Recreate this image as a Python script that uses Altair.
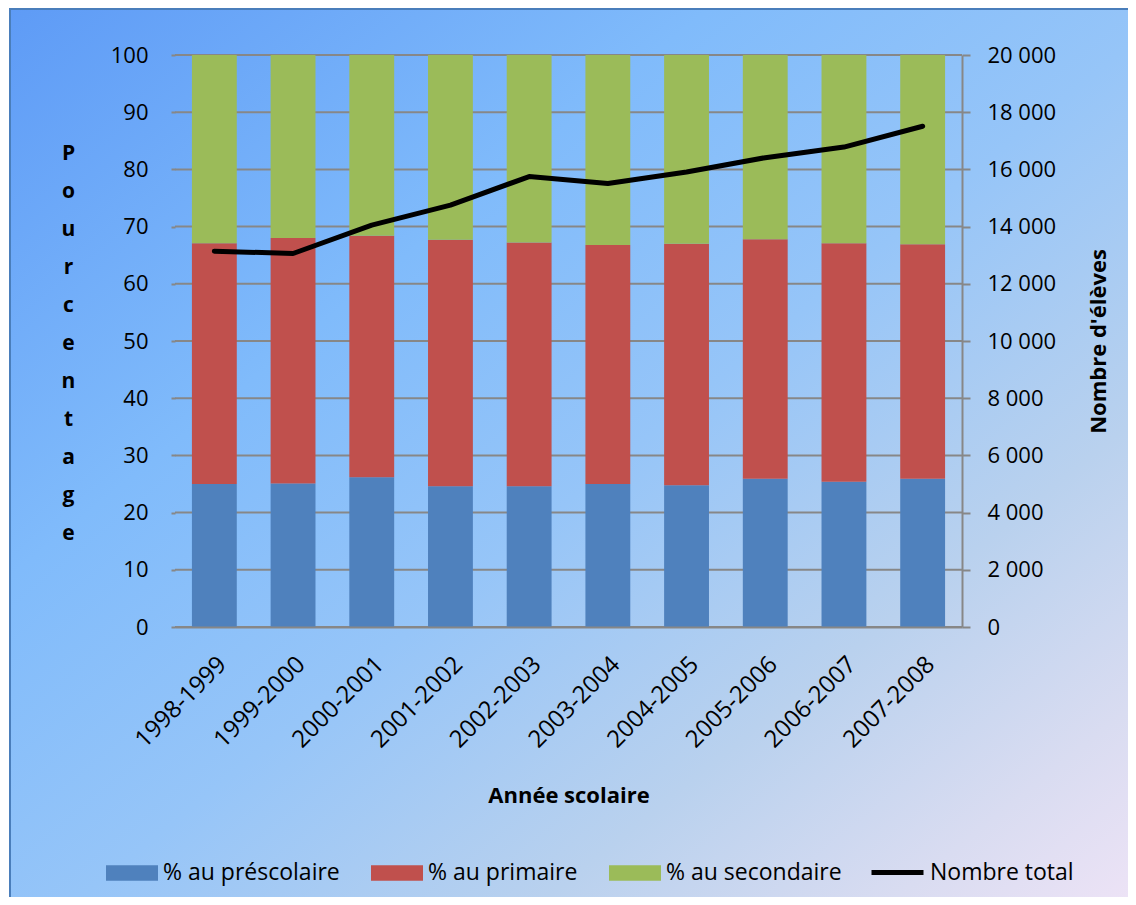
import altair as alt
import pandas as pd

annees = ["1998-1999", "1999-2000", "2000-2001", "2001-2002", "2002-2003",
          "2003-2004", "2004-2005", "2005-2006", "2006-2007", "2007-2008"]
pct_prescolaire = [25.0, 25.1, 26.2, 24.6, 24.6, 25.0, 24.8, 25.9, 25.4, 25.9]
pct_primaire = [42.1, 42.9, 42.2, 43.1, 42.6, 41.8, 42.2, 41.9, 41.7, 41.0]
pct_secondaire = [32.9, 32.0, 31.6, 32.3, 32.8, 33.2, 33.0, 32.2, 32.9, 33.1]
nombre_total = [13140, 13060, 14050, 14750, 15750, 15510, 15910, 16410, 16780, 17510]

niveaux = ["% au préscolaire", "% au primaire", "% au secondaire"]
couleurs = ["#4f81bd", "#c0504d", "#9bbb59"]
ticks_pct = [0, 10, 20, 30, 40, 50, 60, 70, 80, 90, 100]
ticks_eleves = [0, 2000, 4000, 6000, 8000, 10000, 12000, 14000, 16000, 18000, 20000]

rows = []
for i, a in enumerate(annees):
    for k, vals in enumerate([pct_prescolaire, pct_primaire, pct_secondaire]):
        rows.append({"annee": a, "niveau": niveaux[k], "ordre": k, "pct": vals[i]})
bars_df = pd.DataFrame(rows)
line_df = pd.DataFrame({"annee": annees, "total": nombre_total, "serie": ["Nombre total"] * len(annees)})
grid_df = pd.DataFrame({"v": ticks_pct})
bg_df = pd.DataFrame({"k": [0]})

FONT = "Open Sans"
GRAY = "#878787"

x_enc = alt.X(
    "annee:N", sort=annees,
    scale=alt.Scale(paddingInner=0.43, paddingOuter=0.215),
    axis=alt.Axis(
        title="Année scolaire", labelAngle=-45, labelAlign="right", labelBaseline="top",
        labelPadding=25, labelFont=FONT, labelFontSize=24, labelColor="black",
        ticks=False, domain=True, domainColor=GRAY, domainWidth=2, zindex=1,
        titleFont=FONT, titleFontSize=22, titleFontWeight="bold", titleColor="black",
        titleX=393.5, titleY=168, titleAlign="center", titleBaseline="middle",
    ),
)

y_pct_scale = alt.Scale(domain=[0, 100], nice=False)
left_axis = alt.Axis(
    values=ticks_pct, grid=False, domain=False, ticks=True, tickSize=4, tickColor=GRAY,
    tickWidth=2, labelPadding=23, labelFont=FONT, labelFontSize=22, labelColor="black",
    title=list("Pourcentage"), titleAngle=0, titleFont=FONT, titleFontWeight="bold",
    titleFontSize=21, titleLineHeight=38, titleColor="black", titleX=-107, titleY=87,
    titleAlign="center", titleBaseline="top", zindex=1,
)

right_axis = alt.Axis(
    orient="right", values=ticks_eleves, grid=False,
    labelExpr="replace(format(datum.value, ','), ',', ' ')",
    domain=True, domainColor=GRAY, domainWidth=2, ticks=True, tickColor=GRAY,
    tickWidth=2, tickSize=8, labelPadding=17, labelFont=FONT, labelFontSize=22,
    labelColor="black", title="Nombre d'élèves", titleAngle=270, titleFont=FONT,
    titleFontSize=22, titleFontWeight="bold", titleColor="black", titleX=136, titleY=286,
    titleAlign="center", titleBaseline="middle", zindex=1,
)

gradient = alt.LinearGradient(
    gradient="linear",
    stops=[
        alt.GradientStop(offset=0, color="#5e9bf6"),
        alt.GradientStop(offset=0.3, color="#80bbfb"),
        alt.GradientStop(offset=0.5, color="#96c5f8"),
        alt.GradientStop(offset=0.7, color="#b9d1ee"),
        alt.GradientStop(offset=0.85, color="#d9dcf1"),
        alt.GradientStop(offset=1, color="#f6e6f8"),
    ],
    x1=0, y1=0, x2=1, y2=1,
)

bg = alt.Chart(bg_df).mark_rect(fill=gradient, stroke="#4a7ebb", strokeWidth=2).encode(
    x=alt.value(-165), x2=alt.value(1000), y=alt.value(-46), y2=alt.value(900)
)

grid = alt.Chart(grid_df).mark_rule(color=GRAY, strokeWidth=2).encode(
    y=alt.Y("v:Q", scale=y_pct_scale, axis=left_axis)
)

bars = alt.Chart(bars_df).mark_bar().encode(
    x=x_enc,
    y=alt.Y("pct:Q", stack="zero", scale=y_pct_scale, axis=left_axis),
    color=alt.Color(
        "niveau:N",
        scale=alt.Scale(domain=niveaux, range=couleurs),
        legend=alt.Legend(
            orient="none", legendX=-69, legendY=792, direction="horizontal", title=None,
            symbolType="M-1,-0.3H1V0.3H-1Z", symbolSize=2704, symbolStrokeWidth=0,
            labelFont=FONT, labelFontSize=23, labelColor="black", labelOffset=5,
            columnPadding=31, padding=0, labelLimit=400, zindex=1,
        ),
    ),
    order=alt.Order("ordre:Q"),
)

line = alt.Chart(line_df).mark_line(strokeWidth=5, strokeCap="round", strokeJoin="round").encode(
    x=x_enc,
    y=alt.Y("total:Q", scale=alt.Scale(domain=[0, 20000], nice=False), axis=right_axis),
    stroke=alt.Stroke(
        "serie:N",
        scale=alt.Scale(domain=["Nombre total"], range=["black"]),
        legend=alt.Legend(
            orient="none", legendX=694, legendY=789, direction="horizontal", title=None,
            symbolType="M-1,0H1", symbolSize=2704, symbolStrokeWidth=5,
            labelFont=FONT, labelFontSize=23, labelColor="black", labelOffset=4,
            padding=0, labelLimit=400, zindex=1,
        ),
    ),
)

left = alt.layer(bg, grid, bars)
chart = alt.layer(left, line).resolve_scale(y="independent", color="independent").properties(
    width=787, height=572,
    padding={"left": 167, "top": 47, "right": 166, "bottom": 270},
    autosize=alt.AutoSizeParams(type="none"),
).configure_view(stroke=None).configure(background="white")

chart.save("out.html", embed_options={"renderer": "svg", "actions": False})
